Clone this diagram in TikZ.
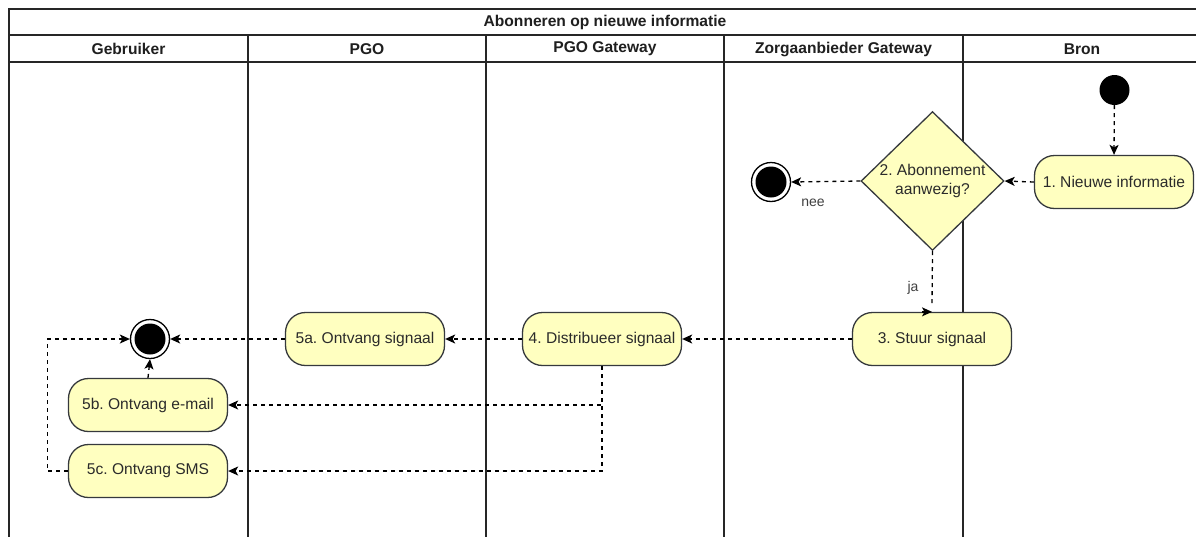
\documentclass[tikz,border=0pt]{standalone}
\usepackage{fontspec}
\setmainfont{Liberation Sans}
\usetikzlibrary{arrows.meta,shapes.geometric}
\definecolor{actfill}{HTML}{FFFFC0}
\definecolor{actline}{HTML}{36393D}
\definecolor{inktext}{HTML}{2B2B2B}
\frenchspacing
\begin{document}
\begin{tikzpicture}[x=1pt,y=-1pt,
  every node/.style={font=\fontsize{15.6}{18.5}\selectfont, text=inktext},
  lane/.style={draw=black!85, line width=1.3pt},
  head/.style={font=\bfseries\fontsize{15.6}{18.5}\selectfont, text=black!88},
  activity/.style={draw=actline, fill=actfill, line width=1.3pt, rounded corners=20pt,
    minimum width=159pt, minimum height=53pt, inner sep=0pt, align=center},
  decision/.style={diamond, draw=actline, fill=actfill, line width=1.3pt,
    minimum width=143pt, minimum height=130pt, inner sep=0pt, align=center},
  startdot/.style={circle, fill=black, minimum size=30pt, inner sep=0pt},
  enddot/.style={circle, draw=black, fill=white, line width=1.3pt, minimum size=39pt,
    inner sep=0pt, path picture={\fill[black] (path picture bounding box.center) circle (15.5pt);}},
  dashline/.style={draw=black, line width=1.3pt, dash pattern=on 4pt off 4pt},
  flow/.style={dashline, -{Stealth[length=10pt,width=9pt,inset=2.5pt]}},
  tip/.style={draw=black, line width=1.3pt, -{Stealth[length=10pt,width=9pt,inset=2.5pt]}},
  lbl/.style={font=\fontsize{14}{16}\selectfont, text=black!75}
]
\useasboundingbox (0,0) rectangle (1196,536);
\clip (0,0) rectangle (1196,536);
\fill[white] (0,0) rectangle (1196,536);

% pool frame, title row and lane header row
\draw[lane] (1215,9) -- (9,9) -- (9,560);
\draw[lane] (9,35) -- (1215,35);
\draw[lane] (9,62) -- (1215,62);
\foreach \lx in {248,486,724,963} \draw[lane] (\lx,35) -- (\lx,560);

\node[head] (pooltitle) at (605,22.5) {Abonneren op nieuwe informatie};
\node[head] (hGebruiker) at (128.5,49) {Gebruiker};
\node[head] (hPGO) at (367,49) {PGO};
\node[head] (hPGOgw) at (605,49) {PGO Gateway};
\node[head] (hZAgw) at (843.5,49) {Zorgaanbieder Gateway};
\node[head] (hBron) at (1082,49) {Bron};

% activities
\node[startdot] (start) at (1114.5,90) {};
\node[activity] (n1) at (1114,182) {1. Nieuwe informatie};
\node[decision] (d2) at (932.5,181) {2. Abonnement\\aanwezig?};
\node[enddot] (endnee) at (771,182) {};
\node[activity] (s3) at (932,339) {3. Stuur signaal};
\node[activity] (s4) at (602,339) {4. Distribueer signaal};
\node[activity] (s5a) at (365,339) {5a. Ontvang signaal};
\node[enddot] (endG) at (150,339) {};
\node[activity] (s5b) at (148,405) {5b. Ontvang e-mail};
\node[activity] (s5c) at (148,471) {5c. Ontvang SMS};

% flows
\draw[flow] (start) -- (n1.north);
\draw[flow] (n1.west) -- (d2.east);
\draw[flow] (d2.west) -- (endnee.east);
\node[lbl] (nee) at (813,203) {nee};
\draw[dashline] (d2.south) -- ([yshift=6pt]s3.north);
\draw[tip] ([xshift=-10pt]s3.north) -- (s3.north);
\node[lbl] (ja) at (913,288) {ja};
\draw[flow] (s3.west) -- (s4.east);
\draw[flow] (s4.west) -- (s5a.east);
\draw[flow] (s5a.west) -- (endG.east);
\draw[flow] (s4.south) |- (s5b.east);
\draw[flow] (s4.south) |- (s5c.east);
\draw[flow] (s5b.north) -- (endG.south);
\draw[flow] (s5c.west) -- ++(-20.5,0) |- (endG.west);
\end{tikzpicture}
\end{document}
